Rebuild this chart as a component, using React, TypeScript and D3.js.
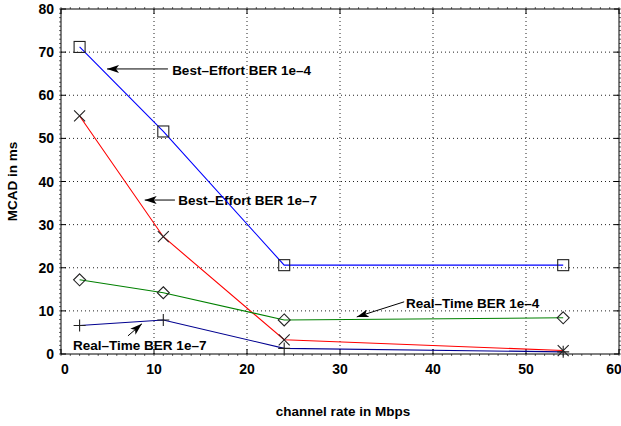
import React, { useEffect, useRef } from 'react';
import * as d3 from 'd3';

// channel rates (Mbps)
const rates = [2, 11, 24, 54];

const bestEffort4 = [71.2, 51.6, 20.6, 20.6];
const bestEffort7 = [55.2, 27.2, 3.3, 0.8];
const realTime4 = [17.2, 14.2, 7.9, 8.4];
const realTime7 = [6.6, 7.9, 1.3, 0.5];

const xTicks = [0, 10, 20, 30, 40, 50, 60];
const yTicks = [0, 10, 20, 30, 40, 50, 60, 70, 80];

const series = [
  { name: 'Best-Effort BER 1e-4', values: bestEffort4, color: '#0000ff', marker: 'square' },
  { name: 'Best-Effort BER 1e-7', values: bestEffort7, color: '#ff0000', marker: 'cross' },
  { name: 'Real-Time BER 1e-4', values: realTime4, color: '#008000', marker: 'diamond' },
  { name: 'Real-Time BER 1e-7', values: realTime7, color: '#000090', marker: 'plus' },
];

// annotation text + arrow, in data units
const annotations = [
  { label: 'Best\u2013Effort BER 1e\u20134', tx: 11.95, ty: 65.9, from: [11.5, 66.1], to: [4.95, 66.1] },
  { label: 'Best\u2013Effort BER 1e\u20137', tx: 12.6, ty: 35.7, from: [12.25, 35.7], to: [9.0, 35.7] },
  { label: 'Real\u2013Time BER 1e\u20134', tx: 37.1, ty: 11.8, from: [36.9, 12.1], to: [31.8, 8.6] },
  { label: 'Real\u2013Time BER 1e\u20137', tx: 1.3, ty: 2.1, from: [7.2, 4.2], to: [8.7, 7.0] },
];

const W = 621;
const H = 426;
const margin = { left: 61, right: 2, top: 9, bottom: 72 };
const FONT = '"Liberation Sans", Arial, Helvetica, sans-serif';

export default function App() {
  const svgRef = useRef<SVGSVGElement>(null);

  useEffect(() => {
    if (!svgRef.current) return;
    const svg = d3.select(svgRef.current);
    svg.selectAll('*').remove();

    const x = d3.scaleLinear().domain([0, 60]).range([margin.left, W - margin.right]);
    const y = d3.scaleLinear().domain([0, 80]).range([H - margin.bottom, margin.top]);
    const [x0, x1] = x.range();
    const [y0, y1] = y.range();

    svg.append('rect').attr('width', W).attr('height', H).attr('fill', '#fff');

    const defs = svg.append('defs');
    defs.append('marker')
      .attr('id', 'arrowhead')
      .attr('viewBox', '0 0 12 8')
      .attr('refX', 12)
      .attr('refY', 4)
      .attr('markerWidth', 12)
      .attr('markerHeight', 8)
      .attr('markerUnits', 'userSpaceOnUse')
      .attr('orient', 'auto')
      .append('path')
      .attr('d', 'M0,0 L12,4 L0,8 L3,4 Z')
      .attr('fill', '#000');

    // grid
    const grid = svg.append('g').attr('stroke', '#222').attr('stroke-width', 1).attr('stroke-dasharray', '1,3');
    xTicks.slice(1, -1).forEach(t => {
      grid.append('line').attr('x1', x(t)).attr('x2', x(t)).attr('y1', y0).attr('y2', y1);
    });
    yTicks.slice(1, -1).forEach(t => {
      grid.append('line').attr('x1', x0).attr('x2', x1).attr('y1', y(t)).attr('y2', y(t));
    });

    // box + ticks
    const ax = svg.append('g').attr('stroke', '#000').attr('stroke-width', 1);
    ax.append('rect')
      .attr('x', x0).attr('y', y1).attr('width', x1 - x0).attr('height', y0 - y1)
      .attr('fill', 'none');
    xTicks.forEach(t => {
      ax.append('line').attr('x1', x(t)).attr('x2', x(t)).attr('y1', y0).attr('y2', y0 - 5);
      ax.append('line').attr('x1', x(t)).attr('x2', x(t)).attr('y1', y1).attr('y2', y1 + 5);
    });
    yTicks.forEach(t => {
      ax.append('line').attr('x1', x0).attr('x2', x0 + 5).attr('y1', y(t)).attr('y2', y(t));
      ax.append('line').attr('x1', x1).attr('x2', x1 - 5).attr('y1', y(t)).attr('y2', y(t));
    });
    d3.range(0, 81, 1).forEach(t => {
      ax.append('line').attr('x1', x0).attr('x2', x0 - 2).attr('y1', y(t)).attr('y2', y(t)).attr('stroke-width', 0.6);
      ax.append('line').attr('x1', x1).attr('x2', x1 + 2).attr('y1', y(t)).attr('y2', y(t)).attr('stroke-width', 0.6);
    });
    d3.range(0, 61, 1).forEach(t => {
      ax.append('line').attr('x1', x(t)).attr('x2', x(t)).attr('y1', y0).attr('y2', y0 + 2).attr('stroke-width', 0.6);
      ax.append('line').attr('x1', x(t)).attr('x2', x(t)).attr('y1', y1).attr('y2', y1 - 2).attr('stroke-width', 0.6);
    });

    // tick labels
    const lbl = svg.append('g').attr('font-family', FONT).attr('font-weight', 'bold').attr('font-size', 13.5).attr('fill', '#000');
    xTicks.forEach((t, i) => {
      const shift = i === 0 ? 4 : i === xTicks.length - 1 ? -5 : 0;
      lbl.append('text').attr('x', x(t) + shift).attr('y', y0 + 20).attr('text-anchor', 'middle').attr('font-size', 14).text(t);
    });
    yTicks.forEach(t => {
      lbl.append('text').attr('x', x0 - 7).attr('y', y(t)).attr('dy', '0.36em').attr('text-anchor', 'end').attr('font-size', 14).text(t);
    });

    lbl.append('text')
      .attr('transform', `translate(17,${(y0 + y1) / 2}) rotate(-90)`)
      .attr('text-anchor', 'middle')
      .text('MCAD in ms');
    lbl.append('text')
      .attr('x', (x0 + x1) / 2 + 3)
      .attr('y', 416)
      .attr('text-anchor', 'middle')
      .text('channel rate in Mbps');

    // lines
    const line = d3.line<number>().x((_, i) => x(rates[i])).y(d => y(d));
    series.forEach(s => {
      svg.append('path')
        .attr('d', line(s.values))
        .attr('fill', 'none')
        .attr('stroke', s.color)
        .attr('stroke-width', 1.1);
    });

    // markers
    const mk = svg.append('g').attr('stroke', '#222').attr('stroke-width', 1.1).attr('fill', 'none');
    series.forEach(s => {
      s.values.forEach((v, i) => {
        const cx = x(rates[i]);
        const cy = y(v);
        if (s.marker === 'square') {
          mk.append('rect').attr('x', cx - 5.5).attr('y', cy - 5.5).attr('width', 11).attr('height', 11);
        } else if (s.marker === 'cross') {
          mk.append('path').attr('d', `M${cx - 5.5},${cy - 5.5}L${cx + 5.5},${cy + 5.5}M${cx - 5.5},${cy + 5.5}L${cx + 5.5},${cy - 5.5}`);
        } else if (s.marker === 'diamond') {
          mk.append('path').attr('d', `M${cx},${cy - 6}L${cx + 6},${cy}L${cx},${cy + 6}L${cx - 6},${cy}Z`);
        } else {
          mk.append('path').attr('d', `M${cx - 6},${cy}L${cx + 6},${cy}M${cx},${cy - 6}L${cx},${cy + 6}`);
        }
      });
    });

    // annotations
    annotations.forEach(a => {
      svg.append('line')
        .attr('x1', x(a.from[0])).attr('y1', y(a.from[1]))
        .attr('x2', x(a.to[0])).attr('y2', y(a.to[1]))
        .attr('stroke', '#000').attr('stroke-width', 1)
        .attr('marker-end', 'url(#arrowhead)');
      lbl.append('text')
        .attr('x', x(a.tx)).attr('y', y(a.ty)).attr('dy', '0.36em')
        .text(a.label);
    });
  }, []);

  return (
    <svg ref={svgRef} width={W} height={H} style={{ position: 'absolute', left: 0, top: 0 }} />
  );
}
